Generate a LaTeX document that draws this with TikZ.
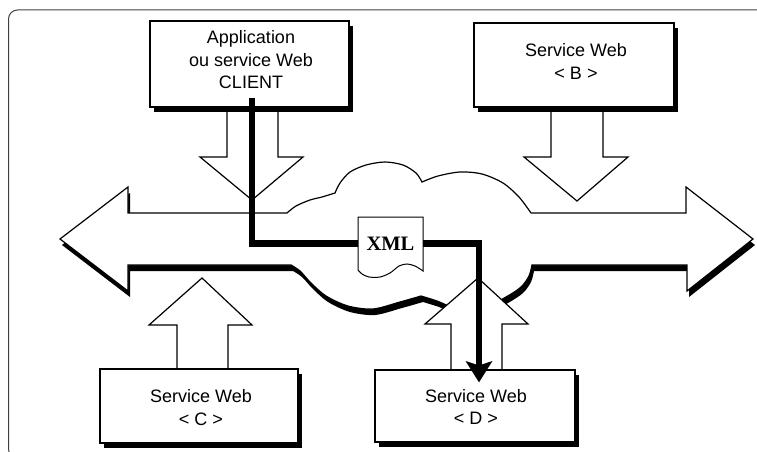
\documentclass[tikz,border=0pt]{standalone}
\usepackage{fontspec}
\setmainfont{Liberation Sans}
\newfontfamily\docfont{Liberation Serif}
\usetikzlibrary{arrows.meta,shadows}

% outline of the message bus: two block arrow heads joined through a cloud
\newcommand\servicebus{(60,239) -- (128,187) -- (128,213) -- (287,213)
  -- plot[smooth] coordinates {(287,213) (296,206) (310,200) (322,197) (335,193)}
  -- plot[smooth] coordinates {(335,193) (340,183) (350,172) (366,165) (385,162) (403,165) (416,173) (422,182)}
  -- plot[smooth] coordinates {(422,182) (438,176) (460,172) (482,174) (503,183) (519,197) (531,213)}
  -- (686,213) -- (686,187) -- (753,239) -- (687,291) -- (687,265) -- (532,265)
  -- plot[smooth] coordinates {(532,265) (529,276) (521,287) (506,297) (480,310) (455,308) (437,301) (421,296)}
  -- plot[smooth] coordinates {(421,296) (400,302) (373,309) (348,306) (326,296) (311,283) (300,271) (291,265)}
  -- (128,265) -- (128,291) -- cycle}

\begin{document}
\begin{tikzpicture}[x=1pt,y=-1pt,line join=miter,
  outline/.style={draw=black,line width=1.2pt,fill=white},
  svcbox/.style={outline,inner sep=0pt,
    drop shadow={shadow xshift=4pt,shadow yshift=-5pt,fill=black,opacity=1}},
  lbl/.style={font=\fontsize{18}{22.5}\selectfont,align=center,inner sep=0pt},
  xmlflow/.style={line width=6.5pt,line cap=butt},
]
\useasboundingbox (0,0) rectangle (757,452);
\clip (0,0) rectangle (757,452);

% frame
\draw[line width=1pt,black!75,rounded corners=9pt] (8.5,10) rectangle (775,458);

% message bus with its shadow
\fill[black,shift={(2,6)}] \servicebus;
\draw[outline] \servicebus;

% block arrows between the services and the bus
\draw[outline] (227,107) -- (227,157) -- (200,157) -- (252,200) -- (303,157) -- (278,157) -- (278,107);
\draw[outline] (551,107) -- (551,157) -- (524,157) -- (577,201) -- (628,157) -- (603,157) -- (603,107);
\draw[outline] (177,369) -- (177,325) -- (149,325) -- (202,278) -- (252,325) -- (228,325) -- (228,369);
\draw[outline] (451,370) -- (451,324) -- (425,324) -- (478,278) -- (528,324) -- (502,324) -- (502,370);

% services
\node[svcbox,minimum width=199pt,minimum height=86pt] (client) at (249.5,64) {};
\node[svcbox,minimum width=200pt,minimum height=84pt] (bsvc) at (574,65) {};
\node[svcbox,minimum width=198pt,minimum height=74pt] (csvc) at (199,406) {};
\node[svcbox,minimum width=200pt,minimum height=72pt] (dsvc) at (475,406) {};

\node[lbl] (clientlbl) at (251,60) {Application\\ou service Web\\CLIENT};
\node[lbl] (blbl) at (576,61.5) {Service Web\\< B >};
\node[lbl] (clbl) at (201,407.5) {Service Web\\< C >};
\node[lbl] (dlbl) at (476,407) {Service Web\\< D >};

% XML document
\draw[draw=black,line width=1pt,fill=white] (358,217) -- (423,217) -- (423,271)
  -- plot[smooth] coordinates {(423,271) (415,266) (407,264) (399,266) (390,273) (380,277) (369,277) (362,274) (358,270)}
  -- cycle;
\node[inner sep=0pt,minimum width=65pt,minimum height=10pt,
  font=\docfont\bfseries\fontsize{20.5}{24}\selectfont] (xmldoc) at (390.5,243.5) {XML};

% path of the XML message
\draw[xmlflow] ([xshift=2.5pt,yshift=10pt]client.south) |- (xmldoc.west);
\draw[xmlflow,-{Stealth[length=21pt,width=26pt,inset=4pt]}]
  (xmldoc.east) -| ([xshift=4pt,yshift=-13pt]dsvc.north);
\end{tikzpicture}
\end{document}
